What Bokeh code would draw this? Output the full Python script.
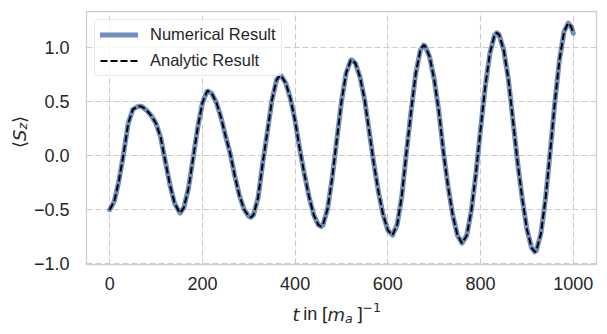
import math
from bokeh.plotting import figure
from bokeh.layouts import row, column
from bokeh.models import Label, FixedTicker, CustomJSTickFormatter, Range1d
from bokeh.embed import file_html
from bokeh.resources import INLINE

# ---- data ----
t_values = [0, 10, 20, 30, 40, 50, 60, 65, 70, 80, 90, 100, 110, 120, 130, 140, 150, 152,
            160, 170, 180, 190, 200, 210, 212, 220, 230, 240, 250, 260, 270, 280, 290, 300, 305,
            310, 320, 330, 340, 350, 360, 367, 370, 380, 390, 400, 410, 420, 430, 440, 450, 456,
            460, 470, 480, 490, 500, 510, 520, 522, 530, 540, 550, 560, 570, 580, 590, 600, 610,
            620, 630, 640, 650, 660, 670, 677, 680, 690, 700, 710, 720, 730, 740, 750, 760,
            770, 780, 790, 800, 810, 820, 830, 835, 840, 850, 860, 870, 880, 890, 900, 910, 917,
            920, 930, 940, 950, 960, 970, 980, 989, 995, 1000]
sz_numerical = [-0.50, -0.42, -0.23, 0.02, 0.30, 0.43, 0.455, 0.46, 0.455, 0.42, 0.37, 0.30, 0.17, -0.05, -0.27, -0.44, -0.52, -0.53,
                -0.48, -0.30, -0.02, 0.265, 0.49, 0.597, 0.60, 0.579, 0.495, 0.357, 0.181, 0.02, -0.19, -0.37, -0.497, -0.562, -0.57,
                -0.549, -0.389, -0.07, 0.22, 0.516, 0.704, 0.745, 0.741, 0.672, 0.528, 0.322, 0.06, -0.17, -0.38, -0.546, -0.64, -0.655,
                -0.641, -0.49, -0.203, 0.154, 0.504, 0.767, 0.886, 0.89, 0.857, 0.728, 0.517, 0.22, -0.08, -0.34, -0.55, -0.69, -0.735,
                -0.64, -0.376, 0.03, 0.41, 0.759, 0.978, 1.025, 1.019, 0.918, 0.706, 0.411, 0.03, -0.29, -0.55, -0.735, -0.809,
                -0.74, -0.51, -0.161, 0.248, 0.641, 0.949, 1.118, 1.14, 1.122, 0.978, 0.709, 0.32, -0.07, -0.40, -0.682, -0.853, -0.89,
                -0.88, -0.724, -0.399, 0.031, 0.489, 0.887, 1.149, 1.23, 1.20, 1.135]
# the analytic curve coincides with the numerical one in the picture
sz_analytic = list(sz_numerical)

x_ticks = [0, 200, 400, 600, 800, 1000]
y_ticks = [-1.0, -0.5, 0.0, 0.5, 1.0]

TEXT = "#262626"
GRID = "#cccccc"

YLAB_W = 30
MAIN_W, MAIN_H = 569, 298
XLAB_H = 28

p = figure(width=MAIN_W, height=MAIN_H, output_backend="svg", toolbar_location=None,
           x_range=Range1d(-50, 1050), y_range=Range1d(-1.007, 1.337),
           min_border_left=56, min_border_right=3, min_border_top=11, min_border_bottom=34)
p.background_fill_color = "white"
p.border_fill_color = "white"
p.outline_line_color = GRID
p.outline_line_width = 1.25

p.line(t_values, sz_numerical, line_color="#4c72b0", line_alpha=0.8, line_width=5,
       line_cap="round", line_join="round", legend_label="Numerical Result")
p.line(t_values, sz_analytic, line_color="black", line_width=2, line_dash="7 3",
       legend_label="Analytic Result")

p.xaxis.ticker = FixedTicker(ticks=x_ticks)
p.yaxis.ticker = FixedTicker(ticks=y_ticks)
p.yaxis.formatter = CustomJSTickFormatter(code="""
    return (tick < 0 ? "\\u2212" : "") + Math.abs(tick).toFixed(1);
""")
for ax in (p.xaxis[0], p.yaxis[0]):
    ax.axis_line_color = None
    ax.major_tick_line_color = None
    ax.minor_tick_line_color = None
    ax.major_tick_out = 0
    ax.major_tick_in = 0
    ax.minor_tick_out = 0
    ax.minor_tick_in = 0
    ax.major_label_text_font = "Liberation Sans"
    ax.major_label_text_font_size = "18px"
    ax.major_label_text_color = TEXT
p.xaxis[0].major_label_standoff = 12
p.yaxis[0].major_label_standoff = 17

for g in (p.xgrid[0], p.ygrid[0]):
    g.grid_line_color = GRID
    g.grid_line_width = 1.1
    g.grid_line_dash = "6 3"

lg = p.legend[0]
lg.location = "top_left"
lg.margin = 8
lg.padding = 5
lg.spacing = 7
lg.glyph_width = 38
lg.glyph_height = 17
lg.label_height = 17
lg.label_standoff = 12
lg.label_text_font = "Liberation Sans"
lg.label_text_font_size = "16.5px"
lg.label_text_color = TEXT
lg.border_line_color = "#d5d5d5"
lg.border_line_width = 1
lg.background_fill_alpha = 0.8
if "border_radius" in lg.properties():
    lg.border_radius = 4


def text_panel(w, h):
    f = figure(width=w, height=h, output_backend="svg", toolbar_location=None,
               x_range=Range1d(0, 1), y_range=Range1d(0, 1),
               x_axis_location=None, y_axis_location=None,
               min_border=0, min_border_left=0, min_border_right=0,
               min_border_top=0, min_border_bottom=0)
    f.grid.visible = False
    f.outline_line_color = None
    f.background_fill_color = "white"
    f.border_fill_color = "white"
    return f


def add_text(fig, text, x, y, size, font="DejaVu Sans", style="normal", angle=0.0):
    fig.add_layout(Label(x=x, y=y, x_units="screen", y_units="screen", text=text,
                         text_font=font, text_font_size=size, text_font_style=style,
                         text_color=TEXT, text_align="left", text_baseline="alphabetic",
                         angle=angle))


# x axis label:  t in [m_a]^-1   (panel frame is aligned with the main frame)
xfig = text_panel(MAIN_W, XLAB_H)
add_text(xfig, "t", 206, 12.5, "18px", style="italic")
add_text(xfig, "in", 216.7, 12.5, "18px", font="Liberation Sans")
add_text(xfig, "[", 235.3, 12.5, "18px")
add_text(xfig, "m", 241, 12.5, "18px", style="italic")
add_text(xfig, "a", 258.6, 8.5, "12.6px", style="italic")
add_text(xfig, "]", 269.4, 12.5, "18px")
add_text(xfig, "\u22121", 276, 19.5, "12.6px")

# y axis label:  <S_z>
yfig = text_panel(YLAB_W, MAIN_H)
ang = math.pi / 2
add_text(yfig, "\u27e8", 19, 150.5, "18px", angle=ang)
add_text(yfig, "S", 19, 157.5, "18px", style="italic", angle=ang)
add_text(yfig, "z", 22, 168.9, "12.6px", style="italic", angle=ang)
add_text(yfig, "\u27e9", 19, 175.5, "18px", angle=ang)

layout = row(yfig, column(p, xfig, spacing=0), spacing=0)

open("out.html", "w").write(file_html(layout, INLINE))
